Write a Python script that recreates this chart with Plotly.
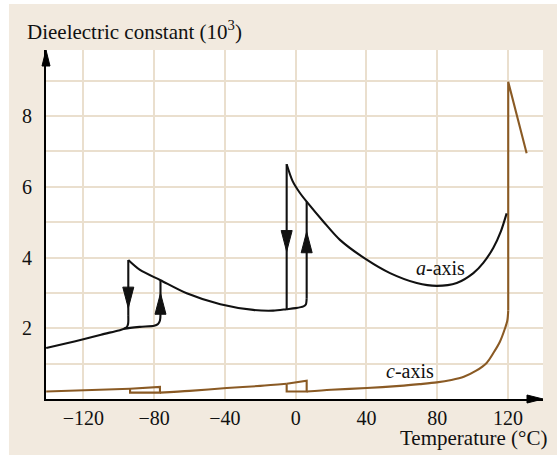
import plotly.graph_objects as go

# ---- a-axis (black): curved parts ----
a_heat_x = [-141, -130, -120, -110, -100, -96.5, -88, -80, -77.8, -76.7, -76.4]
a_heat_y = [1.44, 1.57, 1.69, 1.82, 1.94, 1.99, 2.04, 2.07, 2.12, 2.22, 2.40]
a_cool1_x = [-94.6, -94.7, -95.5, -97.0]
a_cool1_y = [2.35, 2.13, 2.03, 1.99]
a_mid_x = [-94.6, -88, -76.4, -61.6, -42.6, -24.0, -12.7, -5.1, 0.0, 4.4, 5.7, 6.2]
a_mid_y = [3.93, 3.65, 3.36, 2.99, 2.68, 2.52, 2.50, 2.54, 2.57, 2.62, 2.67, 2.85]
a_high_x = [-5.1, -1.8, 2.2, 6.2, 15.6, 25.0, 40.1, 53.3, 68.4, 79.7, 91.0, 100.4, 106.0, 111.7, 116.0, 119.2]
a_high_y = [6.64, 6.17, 5.84, 5.58, 5.02, 4.50, 3.94, 3.56, 3.28, 3.20, 3.28, 3.56, 3.85, 4.28, 4.75, 5.25]
# ---- a-axis (black): vertical jumps ----
a_jump_x = [[-76.4, -76.4], [-94.6, -94.6], [6.2, 6.2], [-5.1, -5.1]]
a_jump_y = [[2.40, 3.36], [3.93, 2.35], [2.85, 5.58], [6.64, 2.54]]

# ---- c-axis (brown): curved parts ----
c_low_x = [-141, -120, -105, -93.6]
c_low_y = [0.21, 0.245, 0.27, 0.29]
c_mid_x = [-76.7, -60, -39, -20, -5.1]
c_mid_y = [0.18, 0.23, 0.31, 0.37, 0.43]
c_high_x = [6.2, 20, 40.1, 58.9, 70, 79.7, 88, 95, 102, 107.9, 111.7, 115.4, 118.3, 119.6, 120.1]
c_high_y = [0.21, 0.26, 0.31, 0.37, 0.42, 0.47, 0.54, 0.63, 0.80, 1.02, 1.30, 1.62, 2.00, 2.22, 2.50]
# ---- c-axis (brown): straight parts (hysteresis boxes, jump at Tc) ----
c_box1_x = [-93.6, -76.7, -76.7, -93.6, -93.6]
c_box1_y = [0.29, 0.34, 0.18, 0.18, 0.29]
c_box2_x = [-5.1, 6.2, 6.2, -5.1, -5.1]
c_box2_y = [0.43, 0.52, 0.21, 0.21, 0.43]
c_peak_x = [120.1, 120.1, 130.5]
c_peak_y = [2.50, 8.97, 6.95]

# ---- hysteresis arrows (tip positions) ----
arrow_x = [-94.6, -76.4, -5.1, 6.2]
arrow_y = [2.57, 2.99, 4.17, 4.73]
arrow_dir = ["down", "up", "down", "up"]

# ---- axes ----
x_ticks = [-120, -80, -40, 0, 40, 80, 120]
x_ticktext = ["\u2212120", "\u221280", "\u221240", "0", "40", "80", "120"]
y_ticks = [1, 2, 3, 4, 5, 6, 7, 8, 9]
y_ticktext = ["", "2", "", "4", "", "6", "", "8", ""]

BLACK = "#111111"
BROWN = "#8a5a24"
GRID = "#eadfce"
BEIGE = "#f2eadf"
FONT = "Liberation Serif"


def join(segs):
    xs, ys = [], []
    for sx, sy in segs:
        if xs:
            xs.append(None)
            ys.append(None)
        xs.extend(sx)
        ys.extend(sy)
    return xs, ys


fig = go.Figure()


def add(segs, color, shape):
    xs, ys = join(segs)
    fig.add_trace(go.Scatter(x=xs, y=ys, mode="lines", connectgaps=False,
                             line=dict(color=color, width=2.1, shape=shape,
                                       smoothing=0.8 if shape == "spline" else None),
                             hoverinfo="skip"))


add([(c_low_x, c_low_y), (c_box1_x, c_box1_y), (c_box2_x, c_box2_y), (c_peak_x, c_peak_y)],
    BROWN, "linear")
add([(c_mid_x, c_mid_y), (c_high_x, c_high_y)], BROWN, "spline")
add(list(zip(a_jump_x, a_jump_y)), BLACK, "linear")
add([(a_heat_x, a_heat_y), (a_cool1_x, a_cool1_y), (a_mid_x, a_mid_y), (a_high_x, a_high_y)],
    BLACK, "spline")

shapes = []
# white margin strips at left and top of the figure
shapes.append(dict(type="rect", xref="paper", yref="paper", x0=-0.2, x1=-0.0745,
                   y0=-0.3, y1=1.3, fillcolor="white", line_width=0, layer="below"))
shapes.append(dict(type="rect", xref="paper", yref="paper", x0=-0.2, x1=1.2,
                   y0=1.1318, y1=1.3, fillcolor="white", line_width=0, layer="below"))

for xx, yy, d in zip(arrow_x, arrow_y, arrow_dir):
    if d == "down":
        p = "M -5.5,21 L 5.5,21 L 0,0 Z"
    else:
        p = "M -5.5,-21 L 5.5,-21 L 0,0 Z"
    shapes.append(dict(type="path", xref="x", yref="y", xsizemode="pixel", ysizemode="pixel",
                       xanchor=xx, yanchor=yy, path=p, fillcolor=BLACK,
                       line=dict(color=BLACK, width=1)))

# axis arrowheads
shapes.append(dict(type="path", xref="paper", yref="paper", xsizemode="pixel", ysizemode="pixel",
                   xanchor=0, yanchor=1, path="M -4,-16 L 4,-16 L 0,0 Z",
                   fillcolor="black", line=dict(color="black", width=1)))
shapes.append(dict(type="path", xref="paper", yref="paper", xsizemode="pixel", ysizemode="pixel",
                   xanchor=1, yanchor=0, path="M -16,-4 L -16,4 L 0,0 Z",
                   fillcolor="black", line=dict(color="black", width=1)))

annotations = [
    dict(text="Dieelectric constant (10<sup>3</sup>)", xref="paper", yref="paper",
         x=-0.0423, y=1.057, xanchor="left", yanchor="middle", showarrow=False,
         font=dict(family=FONT, size=21, color="#111")),
    dict(text="Temperature (°C)", xref="paper", yref="paper",
         x=1.012, y=-0.112, xanchor="right", yanchor="middle", showarrow=False,
         font=dict(family=FONT, size=21, color="#111")),
    dict(text="<i>a</i>-axis", x=81.7, y=3.70, xref="x", yref="y", showarrow=False,
         font=dict(family=FONT, size=20, color="#111")),
    dict(text="<i>c</i>-axis", x=64.6, y=0.80, xref="x", yref="y", showarrow=False,
         font=dict(family=FONT, size=20, color="#111")),
]

fig.update_layout(
    width=557, height=455,
    margin=dict(l=46, r=14, t=50, b=56),
    paper_bgcolor=BEIGE, plot_bgcolor="white",
    showlegend=False,
    shapes=shapes, annotations=annotations,
    font=dict(family=FONT, size=20, color="#111"),
    xaxis=dict(range=[-141.1, 139.75], tickvals=x_ticks, ticktext=x_ticktext,
               showgrid=True, gridcolor=GRID, gridwidth=2, zeroline=False,
               showline=True, linecolor="black", linewidth=2, ticks="",
               ticklabelstandoff=0, tickfont=dict(family=FONT, size=20, color="#111")),
    yaxis=dict(range=[0, 9.87], tickvals=y_ticks, ticktext=y_ticktext,
               showgrid=True, gridcolor=GRID, gridwidth=2, zeroline=False,
               showline=True, linecolor="black", linewidth=2, ticks="",
               ticklabelstandoff=8, tickfont=dict(family=FONT, size=20, color="#111")),
)

fig.write_html("out.html")
